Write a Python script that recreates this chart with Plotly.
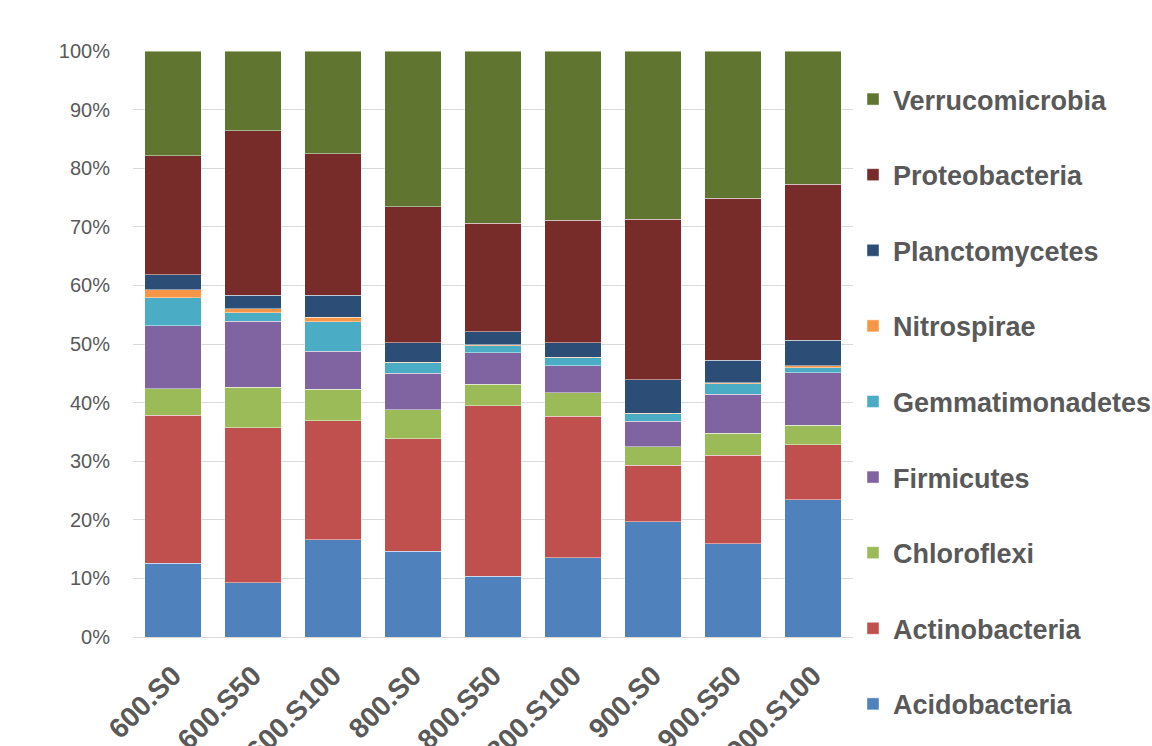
import plotly.graph_objects as go

samples = ["600.S0", "600.S50", "600.S100", "800.S0", "800.S50", "800.S100",
           "900.S0", "900.S50", "900.S100"]

acidobacteria    = [12.6, 9.3, 16.6, 14.6, 10.5, 13.55, 19.7, 15.9, 23.45]
actinobacteria   = [25.2, 26.4, 20.3, 19.2, 29.4, 24.15, 9.65, 15.1, 9.35]
chloroflexi      = [4.6, 6.9, 5.4, 5.0, 3.7, 4.0, 3.15, 3.8, 3.3]
firmicutes       = [10.7, 11.3, 6.5, 6.25, 5.4, 4.6, 4.3, 6.6, 9.0]
gemmatimonadetes = [4.8, 1.4, 5.0, 1.75, 1.2, 1.4, 1.3, 1.8, 0.85]
nitrospirae      = [1.4, 0.7, 0.8, 0.1, 0.2, 0.1, 0.1, 0.2, 0.3]
planctomycetes   = [2.5, 2.3, 3.7, 3.3, 2.2, 2.5, 5.7, 3.8, 4.35]
proteobacteria   = [20.35, 28.1, 24.2, 23.2, 18.7, 20.85, 27.4, 27.7, 26.7]
verrucomicrobia  = [17.85, 13.6, 17.5, 26.6, 29.7, 28.95, 28.7, 25.1, 22.7]

series = [
    ("Acidobacteria", acidobacteria, "#4F81BD"),
    ("Actinobacteria", actinobacteria, "#C0504D"),
    ("Chloroflexi", chloroflexi, "#9BBB59"),
    ("Firmicutes", firmicutes, "#8064A2"),
    ("Gemmatimonadetes", gemmatimonadetes, "#4BACC6"),
    ("Nitrospirae", nitrospirae, "#F79646"),
    ("Planctomycetes", planctomycetes, "#2C4D75"),
    ("Proteobacteria", proteobacteria, "#772C2A"),
    ("Verrucomicrobia", verrucomicrobia, "#5F7530"),
]

fig = go.Figure()
n = len(series)
for i, (name, vals, color) in enumerate(series):
    fig.add_trace(go.Bar(
        x=samples, y=vals, name=name, legendgroup=name, legendrank=100 + (n - i),
        marker=dict(color=color, line=dict(color="rgba(255,255,255,0.45)", width=1)),
    ))

fig.update_layout(
    barmode="stack",
    barnorm="percent",
    bargap=0.29,
    width=1152, height=746,
    margin=dict(l=133, r=299, t=51, b=109, autoexpand=False),
    paper_bgcolor="white", plot_bgcolor="white",
    font=dict(family="Liberation Sans, Arial, sans-serif", color="#595959"),
    legend=dict(
        x=1.0, xanchor="left", y=0.959, yanchor="top",
        traceorder="grouped", tracegroupgap=37.5,
        font=dict(size=27, color="#595959", weight="bold"),
        bgcolor="rgba(0,0,0,0)", maxheight=740,
    ),
    xaxis=dict(
        tickangle=-45,
        tickfont=dict(size=28, color="#595959", weight="bold"),
        showline=True, linecolor="#D9D9D9", linewidth=1,
        ticks="", range=[-0.5, 8.5], ticklabelstandoff=10,
    ),
    yaxis=dict(
        range=[0, 100],
        tickvals=[0, 10, 20, 30, 40, 50, 60, 70, 80, 90, 100],
        ticktext=["0%", "10%", "20%", "30%", "40%", "50%", "60%", "70%", "80%", "90%", "100%"],
        tickfont=dict(size=20, color="#595959"),
        showgrid=True, gridcolor="#D9D9D9", gridwidth=1,
        zeroline=False, ticks="", ticklabelstandoff=22,
    ),
)

fig.write_html("out.html")
